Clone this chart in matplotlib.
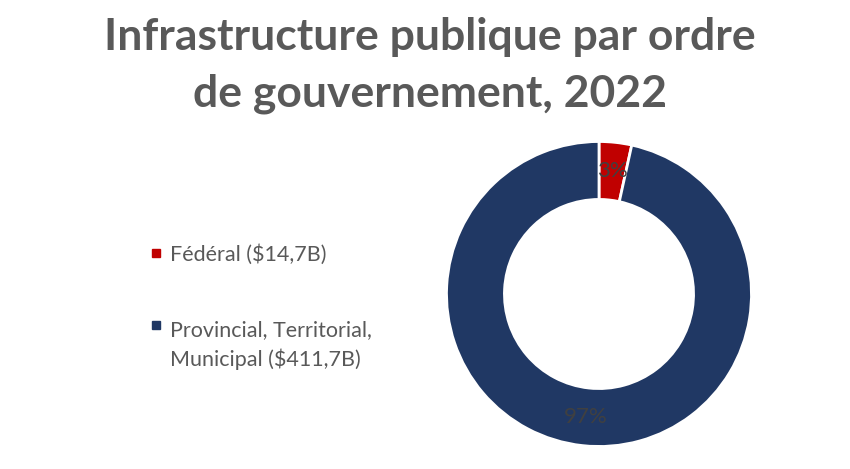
import matplotlib.pyplot as plt
from matplotlib.lines import Line2D

# data
labels = ['Fédéral ($14,7B)', 'Provincial, Territorial,\nMunicipal ($411,7B)']
values = [14.7, 411.7]
colors = ['#C00000', '#203864']
title = 'Infrastructure publique par ordre\nde gouvernement, 2022'

W, H = 850, 469


def draw_chart():
    fig = plt.figure(figsize=(W / 100, H / 100), dpi=100)

    # donut placement (pixels)
    cx, cy, r = 599, 469 - 294, 152.5
    ax = fig.add_axes([(cx - r) / W, (cy - r) / H, 2 * r / W, 2 * r / H])
    ax.pie(
        values, colors=colors, startangle=90, counterclock=False,
        autopct='%.0f%%', pctdistance=0.81,
        wedgeprops=dict(width=0.38, edgecolor='white', linewidth=2),
        textprops=dict(color='#404040', fontsize=16, family='Lato'),
    )
    ax.set_xlim(-1, 1)
    ax.set_ylim(-1, 1)
    ax.set_aspect('equal')
    ax.axis('off')

    # baseline of the last title line
    fig.text(430 / W, 1 - 106 / H, title, ha='center', va='baseline',
             fontsize=32, fontweight='bold', color='#595959', family='Lato',
             linespacing=1.48)

    # legend drawn by hand so the marker sits on the first line
    line_gap = 33
    first_baselines = [261, 333]
    for lab, c, yb in zip(labels, colors, first_baselines):
        fig.add_artist(Line2D([156 / W], [1 - (yb - 8) / H], marker='s',
                              linestyle='none', markersize=6,
                              markerfacecolor=c, markeredgecolor=c,
                              transform=fig.transFigure))
        last = yb + line_gap * lab.count('\n')
        fig.text(170 / W, 1 - last / H, lab, ha='left', va='baseline',
                 fontsize=15.5, color='#595959', family='Lato',
                 linespacing=1.5)

    fig.savefig('out.png', dpi=100)


if __name__ == '__main__':
    draw_chart()
